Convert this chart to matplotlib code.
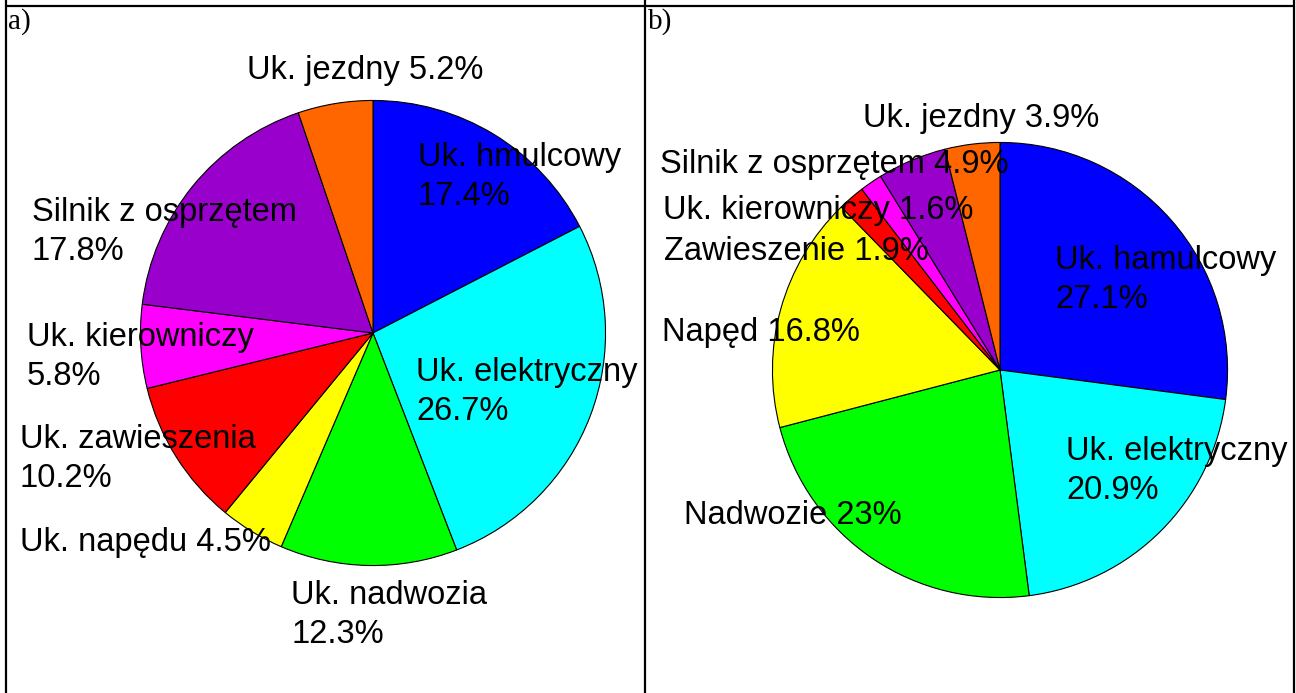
import matplotlib
matplotlib.use("Agg")
import matplotlib.pyplot as plt
from matplotlib.lines import Line2D

# ---------------- data ----------------
names_a = ["Uk. hmulcowy", "Uk. elektryczny", "Uk. nadwozia", "Uk. napędu",
           "Uk. zawieszenia", "Uk. kierowniczy", "Silnik z osprzętem", "Uk. jezdny"]
values_a = [17.4, 26.7, 12.3, 4.5, 10.2, 5.8, 17.8, 5.2]

names_b = ["Uk. hamulcowy", "Uk. elektryczny", "Nadwozie", "Napęd",
           "Zawieszenie", "Uk. kierowniczy", "Silnik z osprzętem", "Uk. jezdny"]
values_b = [27.1, 20.9, 23, 16.8, 1.9, 1.6, 4.9, 3.9]

colors = ["#0000FF", "#00FFFF", "#00FF00", "#FFFF00",
          "#FF0000", "#FF00FF", "#9900CC", "#FF6600"]

panel_labels = ["a)", "b)"]

# ---------------- layout (pixels) ----------------
W, H = 1296, 693
DPI = 100
# label layout: (x_left, y_center, two_lines)
layout_a = [(418, 177, True), (416, 392, True), (291, 615, True), (20, 542, False),
            (20, 459, True), (27, 357, True), (32, 232, True), (247, 71, False)]
layout_b = [(1055, 280, True), (1066, 471, True), (684, 515, False), (662, 332, False),
            (664, 251, False), (663, 211, False), (660, 164, False), (863, 118, False)]

pie_a = (373, 333, 233)   # cx, cy, r
pie_b = (1000, 370, 228)

FS = 23.5

fig = plt.figure(figsize=(W / DPI, H / DPI), dpi=DPI)


def draw_pie(geom, values):
    cx, cy, r = geom
    ax = fig.add_axes([(cx - r) / W, (H - cy - r) / H, 2 * r / W, 2 * r / H])
    ax.pie(values, colors=colors, startangle=90, counterclock=False,
           wedgeprops=dict(edgecolor="black", linewidth=0.8))
    ax.set_xlim(-1.002, 1.002)
    ax.set_ylim(-1.002, 1.002)
    ax.set_zorder(1)
    return ax


draw_pie(pie_a, values_a)
draw_pie(pie_b, values_b)

# text overlay above pies, in pixel coordinates
ov = fig.add_axes([0, 0, 1, 1])
ov.set_xlim(0, W)
ov.set_ylim(H, 0)
ov.axis("off")
ov.set_zorder(2)
ov.patch.set_alpha(0)

font = ["Liberation Sans", "DejaVu Sans"]


def put_labels(names, values, layout):
    for n, v, (x, y, two) in zip(names, values, layout):
        sep = "\n" if two else " "
        ov.text(x, y, f"{n}{sep}{v:g}%", ha="left", va="center",
                fontsize=FS, family=font, color="black", linespacing=1.32)


put_labels(names_a, values_a, layout_a)
put_labels(names_b, values_b, layout_b)

# table frame
lw = 1.6
for seg in [((6, 6), (0, H)), ((645, 645), (0, H)), ((1294, 1294), (0, H)),
            ((6, 1294), (6, 6))]:
    ov.add_line(Line2D(seg[0], seg[1], color="black", linewidth=lw,
                       solid_capstyle="butt"))

serif = ["Liberation Serif", "DejaVu Serif"]
ov.text(8, 8, panel_labels[0], ha="left", va="top", fontsize=21, family=serif)
ov.text(648, 8, panel_labels[1], ha="left", va="top", fontsize=21, family=serif)

fig.savefig("out.png", dpi=DPI)
